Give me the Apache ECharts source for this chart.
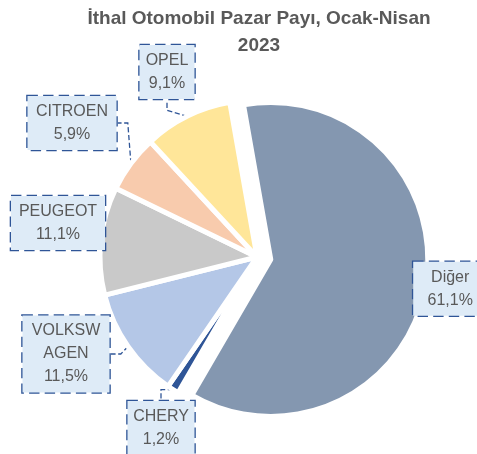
<!DOCTYPE html>
<html>
<head>
<meta charset="utf-8">
<script src="https://cdn.jsdelivr.net/npm/echarts@6/dist/echarts.min.js"></script>
<style>
  html, body { margin: 0; padding: 0; background: #fff; }
  #main { width: 477px; height: 454px; }
</style>
</head>
<body>
<div id="main"></div>
<script>
// pazar payı, yüzde
var brands = ['Diğer', 'CHERY', 'VOLKSWAGEN', 'PEUGEOT', 'CITROEN', 'OPEL'];
var shares = [61.1, 1.2, 11.5, 11.1, 5.9, 9.1];
var colors = ['#8497B0', '#2F5597', '#B4C7E7', '#C9C9C9', '#F8CBAD', '#FFE699'];

// callout boxes: centre and inner text width
var labelSpots = [[453, 294], [161, 428], [66, 354], [58, 223], [72, 123], [167, 72]];
var labelWidths = [62, 55, 75, 82, 77, 43];
var showLeader = [false, true, true, false, true, true];

function fmt(v) {
    return v.toFixed(1).replace('.', ',') + '%';
}

var pieData = brands.map(function (b, i) {
    return {
        name: b,
        value: shares[i],
        selected: i === 0,
        itemStyle: { color: colors[i] },
        label: { width: labelWidths[i] },
        labelLine: { show: showLeader[i] }
    };
});

var chart = echarts.init(document.getElementById('main'));

chart.setOption({
    backgroundColor: '#fff',
    animation: false,
    title: {
        text: 'İthal Otomobil Pazar Payı, Ocak-Nisan\n2023',
        left: 254,
        top: 0,
        textAlign: 'center',
        textStyle: {
            fontFamily: 'Liberation Sans',
            fontSize: 19,
            fontWeight: 'bold',
            color: '#595959',
            lineHeight: 27
        }
    },
    series: [{
        type: 'pie',
        center: [257, 257],
        radius: [0, 157],
        startAngle: 100,
        selectedMode: 'multiple',
        selectedOffset: 14,
        itemStyle: {
            borderColor: '#fff',
            borderWidth: 5
        },
        emphasis: { disabled: true },
        label: {
            show: true,
            position: 'outside',
            overflow: 'none',
            formatter: function (p) {
                var n = p.name === 'VOLKSWAGEN' ? 'VOLKSW\nAGEN' : p.name;
                return n + '\n' + fmt(p.value);
            },
            fontFamily: 'Liberation Sans',
            fontSize: 16,
            lineHeight: 23,
            color: '#595959',
            align: 'center',
            backgroundColor: '#DEEBF7',
            borderColor: '#2F5597',
            borderType: 'dashed',
            borderWidth: 1.3,
            padding: [4, 6]
        },
        labelLine: {
            show: true,
            length: 10,
            length2: 10,
            lineStyle: {
                color: '#2F5597',
                type: 'dashed',
                width: 1.3
            }
        },
        labelLayout: function (p) {
            var s = labelSpots[p.dataIndex];
            return {
                x: s[0],
                y: s[1],
                align: 'center',
                verticalAlign: 'middle'
            };
        },
        data: pieData
    }]
});
</script>
</body>
</html>
